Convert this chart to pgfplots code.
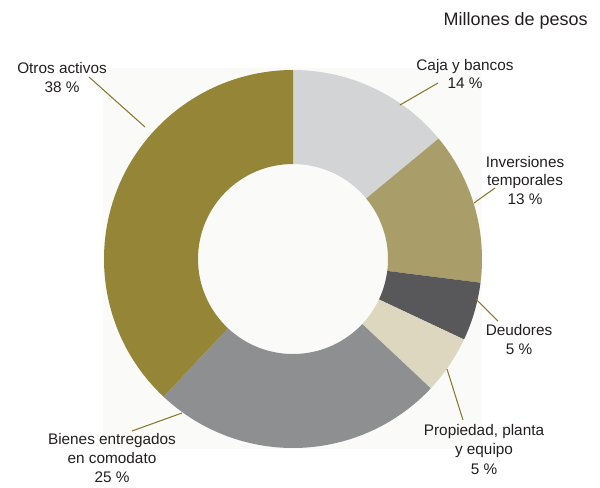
\documentclass[border=0pt]{standalone}
\usepackage{pgfplots}
\pgfplotsset{compat=1.18}
\usepackage{fontspec}
\setmainfont{Liberation Sans}
\definecolor{caja}{HTML}{D3D4D6}
\definecolor{inv}{HTML}{A99E6A}
\definecolor{deu}{HTML}{58585A}
\definecolor{prop}{HTML}{DDD7C0}
\definecolor{bien}{HTML}{8E8F91}
\definecolor{otros}{HTML}{948537}
\definecolor{leader}{HTML}{8A7A30}
\definecolor{bgbox}{HTML}{FAFAF8}
\definecolor{txt}{HTML}{231F20}
% donut segment: #1 start %, #2 end %, #3 colour (centre 293,259; radii 189, 95 in image px)
\newcommand\donutseg[3]{%
  \fill[#3]
    (axis cs:{293+189*cos(90-3.6*#1)},{259-189*sin(90-3.6*#1)})
    arc[start angle={90-3.6*#1}, end angle={90-3.6*#2}, radius=141.75pt]
    -- (axis cs:{293+95*cos(90-3.6*#2)},{259-95*sin(90-3.6*#2)})
    arc[start angle={90-3.6*#2}, end angle={90-3.6*#1}, radius=71.25pt]
    -- cycle;}
\newcommand\lab[3]{\node[anchor=base, font=\fontsize{11.5}{14}\selectfont, text=txt, inner sep=0pt] at (axis cs:#1,#2) {#3};}
\begin{document}
\begin{tikzpicture}
\begin{axis}[x=0.75pt, y=0.75pt, y dir=reverse,
  xmin=0, xmax=600, ymin=0, ymax=487,
  hide axis, clip=false, scale only axis]
\path (axis cs:0,0) rectangle (axis cs:600,487);
\fill[bgbox] (axis cs:103,68) rectangle (axis cs:482,449);
% cumulative shares (%): 14, 13, 5, 5, 25, 38
\donutseg{0}{14}{caja}
\donutseg{14}{27}{inv}
\donutseg{27}{32}{deu}
\donutseg{32}{37}{prop}
\donutseg{37}{62}{bien}
\donutseg{62}{100}{otros}
% leader lines
\draw[leader, line width=0.8pt] (axis cs:400,105) -- (axis cs:438,83);
\draw[leader, line width=0.8pt] (axis cs:474,203) -- (axis cs:495,188);
\draw[leader, line width=0.8pt] (axis cs:476,299) -- (axis cs:498,321);
\draw[leader, line width=0.8pt] (axis cs:447,369) -- (axis cs:463,420);
\draw[leader, line width=0.8pt] (axis cs:182,413) -- (axis cs:132,431);
\draw[leader, line width=0.8pt] (axis cs:145,127) -- (axis cs:89,77);
% labels
\node[anchor=base east, font=\fontsize{13.5}{16}\selectfont, text=txt, inner sep=0pt] at (axis cs:588,25) {Millones de pesos};
\lab{465}{70}{Caja y bancos}
\lab{465}{88}{14 \%}
\lab{525}{167}{Inversiones}
\lab{525}{185}{temporales}
\lab{525}{204}{13 \%}
\lab{519}{335}{Deudores}
\lab{519}{354}{5 \%}
\lab{484}{435}{Propiedad, planta}
\lab{484}{454}{y equipo}
\lab{484}{474}{5 \%}
\lab{62}{73}{Otros activos}
\lab{62}{92}{38 \%}
\lab{112}{444}{Bienes entregados}
\lab{112}{463}{en comodato}
\lab{112}{482}{25 \%}
\end{axis}
\end{tikzpicture}
\end{document}
